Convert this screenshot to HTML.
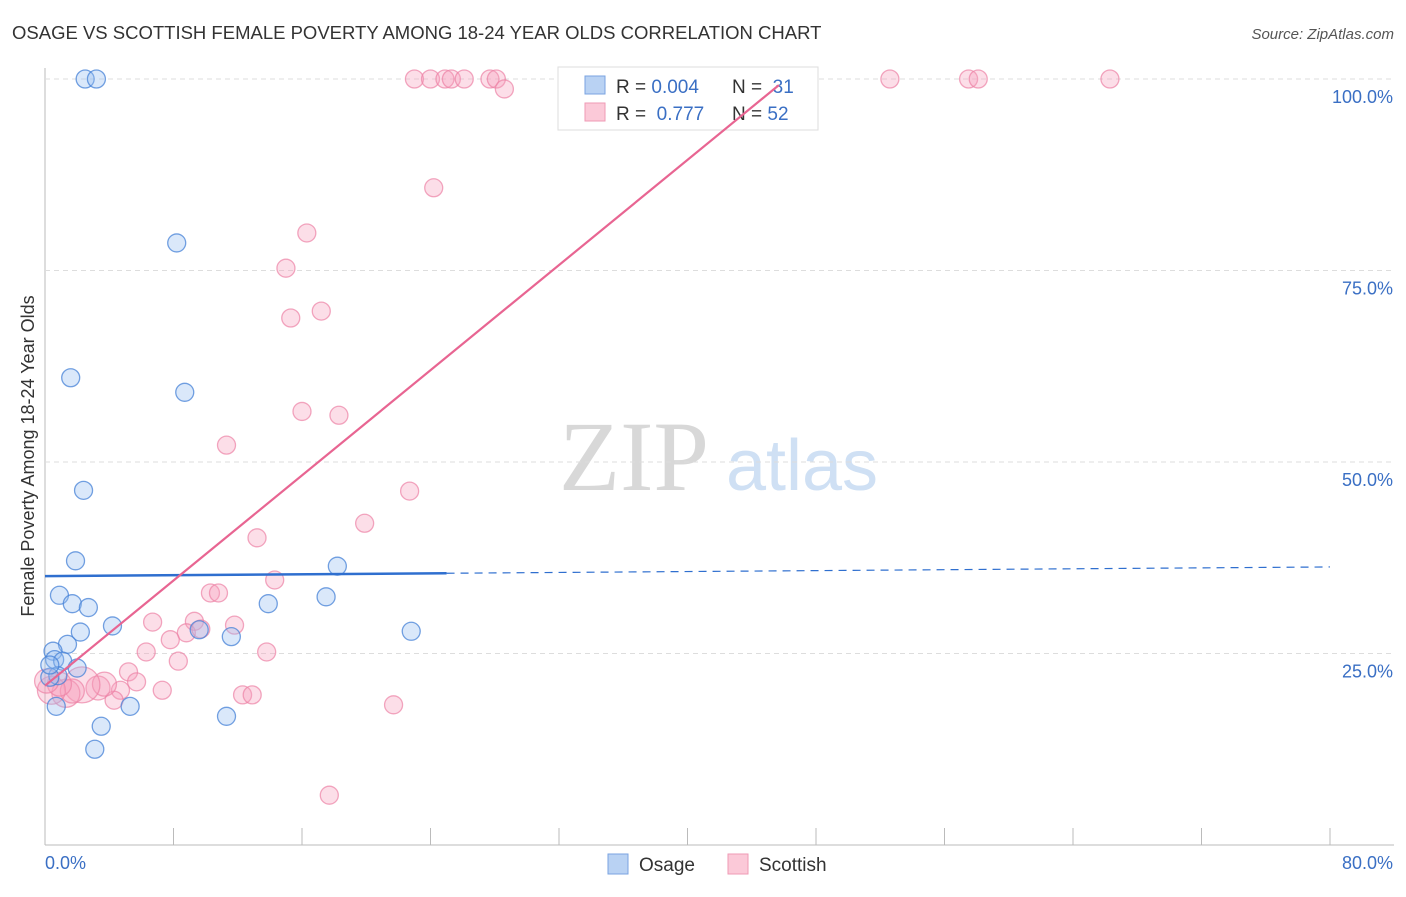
<!DOCTYPE html>
<html><head><meta charset="utf-8"><style>
body{margin:0;background:#fff;font-family:"Liberation Sans",sans-serif}
svg text{font-family:"Liberation Sans",sans-serif}
</style></head><body>
<svg id="c" width="1406" height="892">
<text x="12" y="39" font-size="18.5" fill="#333">OSAGE VS SCOTTISH FEMALE POVERTY AMONG 18-24 YEAR OLDS CORRELATION CHART</text>
<text x="1394" y="39" font-size="15" fill="#555" font-style="italic" text-anchor="end">Source: ZipAtlas.com</text>
<text x="634" y="490" font-size="100" fill="#d8d8d8" style="font-family:'Liberation Serif',serif" text-anchor="middle">ZIP</text>
<text x="802" y="490" font-size="72" fill="#cfe0f4" text-anchor="middle">atlas</text>
<g id="grid"></g><g id="pts"></g>
<g>
<rect x="558" y="67" width="260" height="63" fill="#fff" stroke="#ddd"/>
<rect x="585" y="76" width="20" height="18" fill="#b9d2f3" stroke="#7aa3e0"/>
<rect x="585" y="103" width="20" height="18" fill="#fbc9d8" stroke="#ef9ab5"/>
<text x="616" y="93" font-size="19" fill="#333">R = <tspan fill="#3a6fc4">0.004</tspan></text>
<text x="732" y="93" font-size="19" fill="#333">N = <tspan fill="#3a6fc4">&#160;31</tspan></text>
<text x="616" y="120" font-size="19" fill="#333">R = <tspan fill="#3a6fc4">&#160;0.777</tspan></text>
<text x="732" y="120" font-size="19" fill="#333">N = <tspan fill="#3a6fc4">52</tspan></text>
</g>
<g id="lines"></g>
<text transform="translate(34,456) rotate(-90)" font-size="18" fill="#333" text-anchor="middle">Female Poverty Among 18-24 Year Olds</text>
<text x="45" y="869" font-size="18" fill="#3a6fc4">0.0%</text>
<text x="1393" y="869" font-size="18" fill="#3a6fc4" text-anchor="end">80.0%</text>
<g>
<rect x="608" y="854" width="20" height="20" fill="#b9d2f3" stroke="#7aa3e0"/>
<text x="639" y="871" font-size="19" fill="#333">Osage</text>
<rect x="728" y="854" width="20" height="20" fill="#fbc9d8" stroke="#ef9ab5"/>
<text x="759" y="871" font-size="19" fill="#333">Scottish</text>
</g>
</svg>
<script>
const yTicks=[25,50,75,100];
const yTickLabels=["25.0%","50.0%","75.0%","100.0%"];
const xTicks=[0,8,16,24,32,40,48,56,64,72,80];
const osageX=[2.5,3.2,8.2,1.6,8.7,2.4,1.9,0.9,1.7,2.7,4.2,2.2,1.4,0.5,0.6,1.1,2.0,0.8,0.3,0.7,3.5,3.1,5.3,9.6,11.6,11.3,13.9,18.2,17.5,22.8,0.3];
const osageY=[100,100,78.6,61,59.1,46.3,37.1,32.6,31.5,31,28.6,27.8,26.2,25.3,24.2,24,23.1,22.1,21.9,18.1,15.5,12.5,18.1,28.1,27.2,16.8,31.5,36.4,32.4,27.9,23.5];
const scotX=[23,24,24.9,25.3,26.1,27.7,28.1,28.6,52.6,57.5,58.1,66.3,24.2,16.3,15,15.3,17.2,16,18.3,11.3,22.7,19.9,13.2,14.3,10.3,10.8,6.7,9.3,11.8,8.8,9.7,7.8,6.3,8.3,13.8,5.2,5.7,7.3,4.7,4.3,3.3,3.7,2.3,1.3,1.7,0.4,0.9,0.1,12.3,12.9,21.7,17.7];
const scotY=[100,100,100,100,100,100,100,98.7,100,100,100,100,85.8,79.9,75.3,68.8,69.7,56.6,56.1,52.2,46.2,42,40.1,34.6,32.9,32.9,29.1,29.2,28.7,27.7,28.2,26.8,25.2,24,25.2,22.6,21.3,20.2,20.2,18.9,20.5,21,20.9,19.8,20.1,20.2,21,21.4,19.6,19.6,18.3,6.5];
const scotR=[9,9,9,9,9,9,9,9,9,9,9,9,9,9,9,9,9,9,9,9,9,9,9,9,9,9,9,9,9,9,9,9,9,9,9,9,9,9,9,9,12,12,18,14,12,14,12,12,9,9,9,9];
const trendBlue=[35.1,36.3];
const trendPink=[20.8,1.716];
const X=v=>45+v/80*1285, Y=v=>845-v/100*766;
const NS="http://www.w3.org/2000/svg";
function mk(p,t,a){const e=document.createElementNS(NS,t);for(const k in a)e.setAttribute(k,a[k]);p.appendChild(e);return e;}
const g=document.getElementById('grid');
let ax=mk(g,'line',{x1:45,y1:68,x2:45,y2:845,stroke:'#bbb'});


let bx=mk(g,'line',{x1:45,y1:845,x2:1394,y2:845,stroke:'#bbb'});


yTicks.forEach((t,i)=>{
 const l=mk(g,'line',{x1:45,y1:Y(t),x2:1394,y2:Y(t),stroke:'#ddd','stroke-dasharray':'5,4'});
 
 
 const tx=mk(g,'text',{x:1393,y:Y(t)+24,'font-size':18,fill:'#3a6fc4','text-anchor':'end'});
 tx.textContent=yTickLabels[i];
 
 
});
xTicks.forEach(t=>{
 const l=mk(g,'line',{x1:X(t),y1:828,x2:X(t),y2:845,stroke:'#bbb'});
 
 
});
const P=document.getElementById('pts');
scotX.forEach((v,i)=>{
 const c=mk(P,'circle',{cx:X(v),cy:Y(scotY[i]),r:scotR[i],fill:'rgba(246,160,188,0.35)',stroke:'rgba(236,130,165,0.7)','stroke-width':1.3});
 
 
});
osageX.forEach((v,i)=>{
 const c=mk(P,'circle',{cx:X(v),cy:Y(osageY[i]),r:9,fill:'rgba(150,190,240,0.35)',stroke:'rgba(70,130,215,0.75)','stroke-width':1.3});
 
 
});
const L=document.getElementById('lines');
const bAt=x=>trendBlue[0]+(trendBlue[1]-trendBlue[0])*x/80;
let b1=mk(L,'line',{x1:X(0),y1:Y(bAt(0)),x2:X(25),y2:Y(bAt(25)),stroke:'#2f6fcf','stroke-width':2.5});


let b2=mk(L,'line',{x1:X(25),y1:Y(bAt(25)),x2:X(80),y2:Y(bAt(80)),stroke:'#2f6fcf','stroke-width':1.2,'stroke-dasharray':'8,6'});


const xe=(99.2-trendPink[0])/trendPink[1];
let p1=mk(L,'line',{x1:X(0),y1:Y(trendPink[0]),x2:X(xe),y2:Y(99.2),stroke:'#e86592','stroke-width':2.2});


</script>
</body></html>
